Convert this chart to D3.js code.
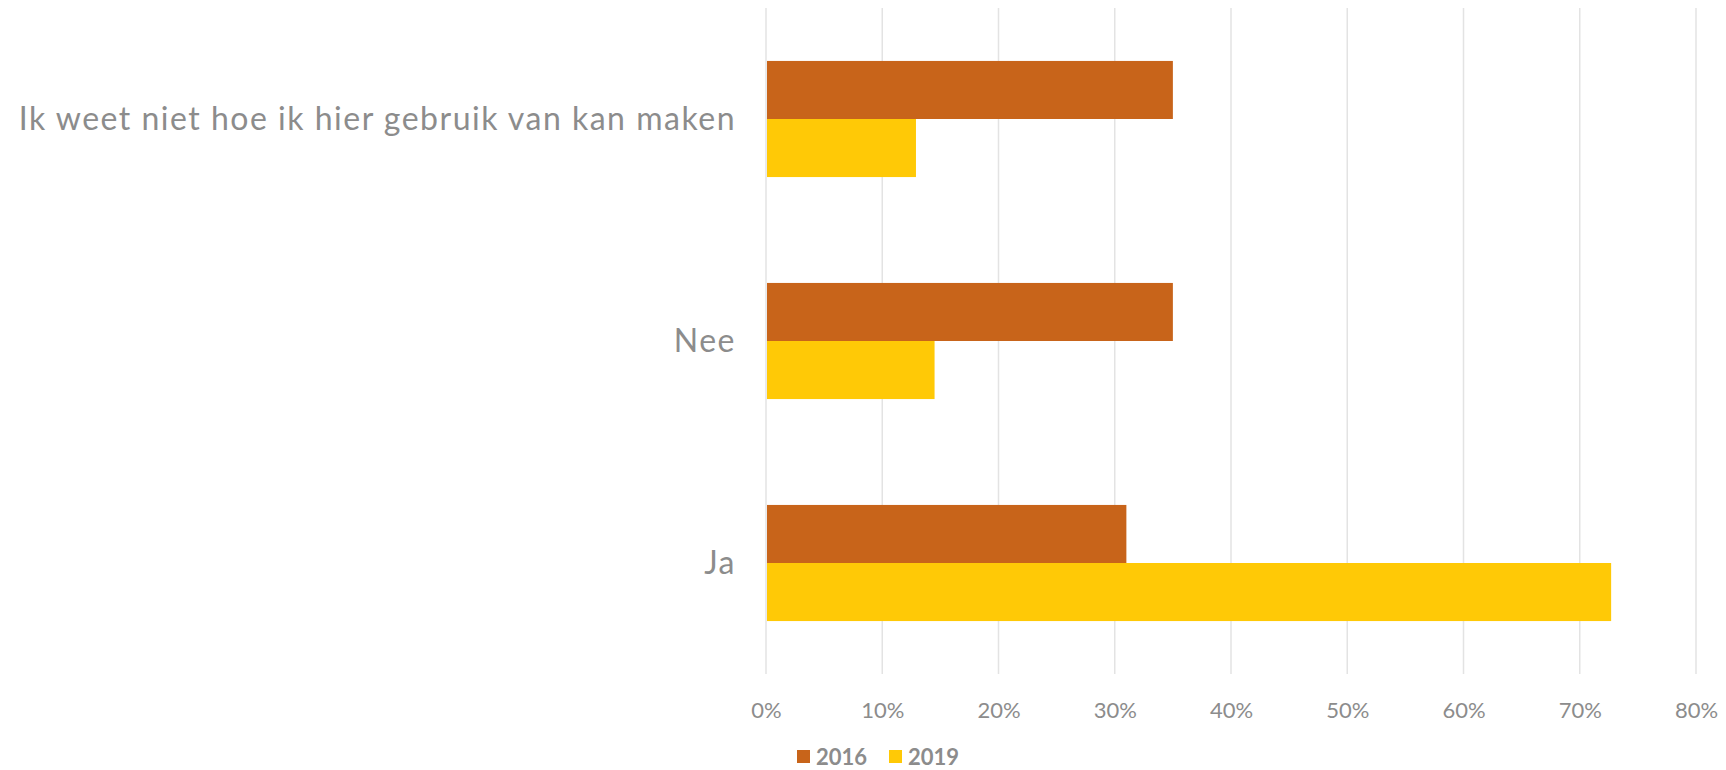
<!DOCTYPE html>
<html>
<head>
<meta charset="utf-8">
<script src="https://cdn.jsdelivr.net/npm/d3@7"></script>
<style>
  html, body { margin: 0; padding: 0; background: #fff; }
  svg { display: block; }
  text { font-family: "Century Gothic", "URW Gothic", Lato, "Open Sans", sans-serif; }
</style>
</head>
<body>
<svg id="chart" width="1726" height="770"></svg>
<script>
const categories = ["Ik weet niet hoe ik hier gebruik van kan maken", "Nee", "Ja"];
const seriesNames = ["2016", "2019"];
const values2016 = [0.35, 0.35, 0.31];
const values2019 = [0.129, 0.145, 0.727];
const tickValues = [0, 0.1, 0.2, 0.3, 0.4, 0.5, 0.6, 0.7, 0.8];
const colors = ["#C8641A", "#FFC906"];

const svg = d3.select("#chart");
const plotLeft = 766, plotRight = 1696, plotTop = 8, plotBottom = 674;

const x = d3.scaleLinear().domain([0, 0.8]).range([plotLeft, plotRight]);
const y = d3.scaleBand().domain(categories).range([plotTop, plotBottom])
  .paddingInner(0.477).paddingOuter(0.2385);
const ySub = d3.scaleBand().domain(seriesNames).range([0, y.bandwidth()]);

// gridlines
svg.append("g").selectAll("line").data(tickValues).join("line")
  .attr("x1", d => x(d)).attr("x2", d => x(d))
  .attr("y1", plotTop).attr("y2", plotBottom)
  .attr("stroke", "#e3e3e3").attr("stroke-width", 1.5);

// bars
const data = categories.map((c, i) => ({ cat: c, vals: [values2016[i], values2019[i]] }));
const groups = svg.append("g").selectAll("g").data(data).join("g")
  .attr("transform", d => `translate(0,${y(d.cat)})`);
groups.selectAll("rect").data(d => d.vals.map((v, j) => ({ v, s: seriesNames[j], j })))
  .join("rect")
  .attr("x", x(0) + 1)
  .attr("y", d => ySub(d.s))
  .attr("width", d => x(d.v) - x(0) - 1)
  .attr("height", ySub.bandwidth())
  .attr("fill", d => colors[d.j]);

// x axis labels
const xAxis = d3.axisBottom(x).tickValues(tickValues).tickFormat(d3.format(".0%")).tickSize(0).tickPadding(0);
const gx = svg.append("g").attr("transform", `translate(0,${plotBottom})`).call(xAxis);
gx.select(".domain").remove();
gx.selectAll("text").attr("dy", null).attr("y", 44)
  .attr("font-size", 22).attr("fill", "#8c8c8c")
  .style("font-family", "\"Century Gothic\", Lato, sans-serif");

// category labels
const yAxis = d3.axisLeft(y).tickSize(0).tickPadding(0);
const gy = svg.append("g").attr("transform", `translate(736,0)`).call(yAxis);
gy.select(".domain").remove();
gy.selectAll("text").attr("font-size", 32).attr("fill", "#8c8c8c").attr("dy", "0.35em")
  .attr("letter-spacing", 1.5)
  .style("font-family", "\"Century Gothic\", Lato, sans-serif");

// legend
const legend = svg.append("g");
const legX = [797, 889];
seriesNames.forEach((s, i) => {
  legend.append("rect").attr("x", legX[i]).attr("y", 750).attr("width", 13).attr("height", 13).attr("fill", colors[i]);
  legend.append("text").attr("x", legX[i] + 19).attr("y", 765)
    .attr("font-size", 22).attr("font-weight", "bold").attr("fill", "#8c8c8c").text(s);
});
</script>
</body>
</html>
